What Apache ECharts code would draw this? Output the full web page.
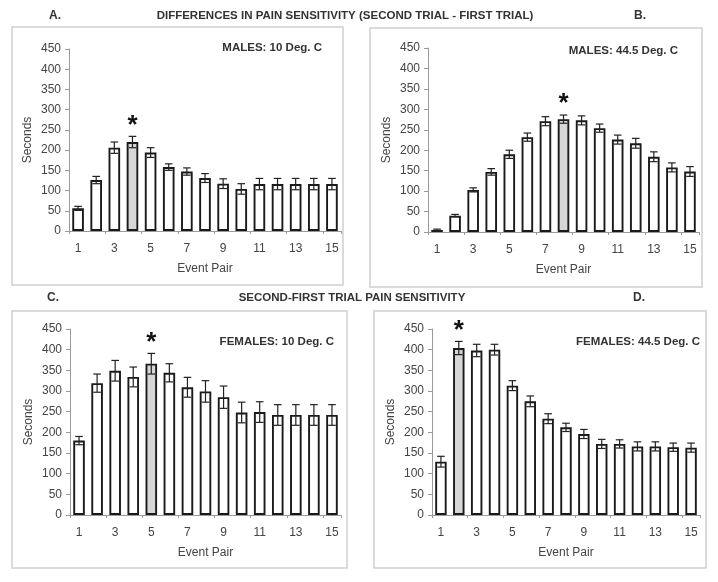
<!DOCTYPE html>
<html><head><meta charset="utf-8">
<script src="https://cdn.jsdelivr.net/npm/echarts@6/dist/echarts.min.js"></script>
<style>html,body{margin:0;padding:0;background:#fff}#c{width:718px;height:582px}</style>
</head><body><div id="c"></div>
<script>
var eventPairs = ['1','2','3','4','5','6','7','8','9','10','11','12','13','14','15'];
var yTicks = [0,50,100,150,200,250,300,350,400,450];
var maleCold = [56,126,206,220,194,158,147,131,117,104,116,116,116,116,116];
var maleColdErr = [5,9,14,14,12,8,9,11,12,13,14,14,14,14,14];
var maleHot = [5,40,103,147,190,232,271,276,273,254,226,217,184,158,148];
var maleHotErr = [2,3,5,8,10,10,11,10,11,10,11,12,12,11,12];
var femaleCold = [180,319,349,334,366,344,309,299,285,248,249,242,242,242,242];
var femaleColdErr = [10,22,25,24,25,22,24,26,27,25,25,25,25,25,25];
var femaleHot = [129,404,398,400,313,275,233,212,196,172,172,166,166,164,163];
var femaleHotErr = [13,16,15,13,12,13,12,10,11,11,10,11,11,10,11];
var panelTitles = ['MALES: 10 Deg. C','MALES: 44.5 Deg. C','FEMALES: 10 Deg. C','FEMALES: 44.5 Deg. C'];
var highlightIdx = [3,7,4,1];

var panels = [
  {vals: maleCold, err: maleColdErr},
  {vals: maleHot, err: maleHotErr},
  {vals: femaleCold, err: femaleColdErr},
  {vals: femaleHot, err: femaleHotErr}
];
var FONT = 'Liberation Sans, Arial, sans-serif';
var grids = [
  {left:69, top:49, width:272, height:182},
  {left:428, top:48, width:271, height:184},
  {left:70, top:329, width:271, height:186},
  {left:432, top:329, width:268, height:186}
];
var boxes = [
  {x:12,y:27,width:331,height:258},
  {x:370,y:28,width:332,height:259},
  {x:12,y:311,width:335,height:257},
  {x:374,y:311,width:332,height:257}
];
var subPos = [[322,48],[678,51],[334,342],[700,342]];

var xAxes = [], yAxes = [], series = [], graphics = [];
boxes.forEach(function(b){
  graphics.push({type:'rect', shape:b, style:{fill:'none', stroke:'#cfcfcf', lineWidth:1.5}, z:0});
});
panels.forEach(function(p, k){
  xAxes.push({type:'category', gridIndex:k, data:eventPairs,
    axisLine:{lineStyle:{color:'#9a9a9a', width:1}},
    axisTick:{show:true, length:3, lineStyle:{color:'#9a9a9a'}},
    axisLabel:{interval:1, color:'#444', fontSize:12, fontFamily:FONT, margin:12},
    name:'Event Pair', nameLocation:'middle', nameGap:32,
    nameTextStyle:{color:'#444', fontSize:12, fontFamily:FONT}
  });
  yAxes.push({type:'value', gridIndex:k, min:0, max:450, interval:50,
    axisLine:{show:true, lineStyle:{color:'#9a9a9a', width:1}},
    axisTick:{show:true, length:4, lineStyle:{color:'#9a9a9a'}},
    splitLine:{show:false},
    axisLabel:{color:'#444', fontSize:12, fontFamily:FONT, margin:8},
    name:'Seconds', nameLocation:'middle', nameGap:35,
    nameTextStyle:{color:'#444', fontSize:12, fontFamily:FONT}
  });
  var barData = p.vals.map(function(v, i){
    return {value:v, itemStyle:{color: i===highlightIdx[k] ? '#d6d6d6' : '#ffffff'}};
  });
  series.push({type:'bar', xAxisIndex:k, yAxisIndex:k, data:barData, barWidth:'64%',
    itemStyle:{borderColor:'#1a1a1a', borderWidth:1.9}, silent:true, z:2});
  var errData = p.vals.map(function(v,i){ return [i, v - p.err[i], v + p.err[i]]; });
  series.push({type:'custom', xAxisIndex:k, yAxisIndex:k, data:errData, z:3, silent:true,
    renderItem:function(params, api){
      var lo = api.coord([api.value(0), api.value(1)]);
      var hi = api.coord([api.value(0), api.value(2)]);
      var w = 3.8, st = {stroke:'#222', lineWidth:1.2};
      return {type:'group', children:[
        {type:'line', shape:{x1:lo[0],y1:lo[1],x2:hi[0],y2:hi[1]}, style:st},
        {type:'line', shape:{x1:lo[0]-w,y1:lo[1],x2:lo[0]+w,y2:lo[1]}, style:st},
        {type:'line', shape:{x1:hi[0]-w,y1:hi[1],x2:hi[0]+w,y2:hi[1]}, style:st}
      ]};
    }
  });
  var hi = highlightIdx[k];
  series.push({type:'custom', xAxisIndex:k, yAxisIndex:k, data:[[hi, p.vals[hi] + p.err[hi]]], z:4, silent:true,
    renderItem:function(params, api){
      var c = api.coord([api.value(0), api.value(1)]);
      return {type:'text', x:c[0], y:c[1]+2, style:{text:'*', fill:'#111', font:'bold 26px ' + FONT, align:'center', verticalAlign:'bottom'}};
    }
  });
  graphics.push({type:'text', x:subPos[k][0], y:subPos[k][1], style:{text:panelTitles[k], fill:'#333', font:'bold 11.5px ' + FONT, align:'right', verticalAlign:'middle'}, z:5});
});
graphics.push({type:'text', x:55, y:16, style:{text:'A.', fill:'#333', font:'bold 12px ' + FONT, align:'center', verticalAlign:'middle'}});
graphics.push({type:'text', x:640, y:16, style:{text:'B.', fill:'#333', font:'bold 12px ' + FONT, align:'center', verticalAlign:'middle'}});
graphics.push({type:'text', x:53, y:298, style:{text:'C.', fill:'#333', font:'bold 12px ' + FONT, align:'center', verticalAlign:'middle'}});
graphics.push({type:'text', x:639, y:298, style:{text:'D.', fill:'#333', font:'bold 12px ' + FONT, align:'center', verticalAlign:'middle'}});
graphics.push({type:'text', x:345, y:16, style:{text:'DIFFERENCES IN PAIN SENSITIVITY (SECOND TRIAL - FIRST TRIAL)', fill:'#333', font:'bold 11.5px ' + FONT, align:'center', verticalAlign:'middle'}});
graphics.push({type:'text', x:352, y:298, style:{text:'SECOND-FIRST TRIAL PAIN SENSITIVITY', fill:'#333', font:'bold 11.5px ' + FONT, align:'center', verticalAlign:'middle'}});

var chart = echarts.init(document.getElementById('c'), null, {renderer:'canvas'});
chart.setOption({
  animation:false,
  backgroundColor:'#fff',
  grid:grids,
  xAxis:xAxes,
  yAxis:yAxes,
  series:series,
  graphic:graphics
});
</script></body></html>
